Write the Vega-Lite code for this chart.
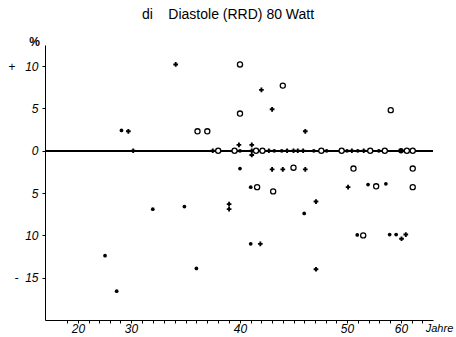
{
  "$schema": "https://vega.github.io/schema/vega-lite/v6.json",
  "autosize": {"type": "none"},
  "padding": {"left": 45, "top": 45, "right": 23, "bottom": 17},
  "width": 388,
  "height": 275,
  "background": "white",
  "config": {
    "view": {"stroke": null},
    "font": "Liberation Sans"
  },
  "title": {
    "text": "di\u00a0\u00a0\u00a0\u00a0Diastole (RRD) 80 Watt",
    "frame": "group",
    "anchor": "middle",
    "dx": -11,
    "dy": 20,
    "offset": 22,
    "baseline": "alphabetic",
    "fontSize": 14,
    "fontWeight": "normal",
    "font": "Liberation Sans",
    "color": "black"
  },
  "data": {
    "values": [
      {"age": 28.2, "pct": 2.4, "type": "dot"},
      {"age": 29.5, "pct": 2.3, "type": "plus"},
      {"age": 34.1, "pct": 10.2, "type": "plus"},
      {"age": 42.0, "pct": 7.2, "type": "plus"},
      {"age": 43.0, "pct": 4.9, "type": "plus"},
      {"age": 46.1, "pct": 2.3, "type": "plus"},
      {"age": 40.0, "pct": 10.2, "type": "open"},
      {"age": 44.0, "pct": 7.7, "type": "open"},
      {"age": 40.0, "pct": 4.4, "type": "open"},
      {"age": 36.1, "pct": 2.3, "type": "open"},
      {"age": 37.0, "pct": 2.3, "type": "open"},
      {"age": 58.1, "pct": 4.8, "type": "open"},
      {"age": 39.9, "pct": 0.7, "type": "plus"},
      {"age": 41.1, "pct": 0.7, "type": "plus"},
      {"age": 30.2, "pct": 0, "type": "plus"},
      {"age": 37.5, "pct": 0, "type": "plus"},
      {"age": 38.0, "pct": 0, "type": "open"},
      {"age": 39.5, "pct": 0, "type": "open"},
      {"age": 40.0, "pct": 0, "type": "dot"},
      {"age": 41.1, "pct": 0, "type": "plus"},
      {"age": 41.1, "pct": -0.5, "type": "plus"},
      {"age": 41.5, "pct": 0, "type": "open"},
      {"age": 42.1, "pct": 0, "type": "open"},
      {"age": 42.7, "pct": 0, "type": "plus"},
      {"age": 43.2, "pct": 0, "type": "dot"},
      {"age": 43.9, "pct": 0, "type": "dot"},
      {"age": 44.4, "pct": 0, "type": "plus"},
      {"age": 45.0, "pct": 0, "type": "plus"},
      {"age": 45.4, "pct": 0, "type": "plus"},
      {"age": 45.9, "pct": 0, "type": "plus"},
      {"age": 46.9, "pct": 0, "type": "dot"},
      {"age": 47.6, "pct": 0, "type": "open"},
      {"age": 48.1, "pct": 0, "type": "dot"},
      {"age": 49.5, "pct": 0, "type": "open"},
      {"age": 50.0, "pct": 0, "type": "dot"},
      {"age": 50.9, "pct": 0, "type": "plus"},
      {"age": 52.0, "pct": 0, "type": "dot"},
      {"age": 53.1, "pct": 0, "type": "plus"},
      {"age": 54.3, "pct": 0, "type": "open"},
      {"age": 55.9, "pct": 0, "type": "dot"},
      {"age": 57.0, "pct": 0, "type": "open"},
      {"age": 60.0, "pct": 0, "type": "big"},
      {"age": 61.1, "pct": 0, "type": "open"},
      {"age": 62.2, "pct": 0, "type": "open"},
      {"age": 40.0, "pct": -2.1, "type": "dot"},
      {"age": 43.0, "pct": -2.2, "type": "plus"},
      {"age": 44.0, "pct": -2.2, "type": "plus"},
      {"age": 45.0, "pct": -2.0, "type": "open"},
      {"age": 46.1, "pct": -2.2, "type": "plus"},
      {"age": 51.2, "pct": -2.1, "type": "open"},
      {"age": 62.2, "pct": -2.1, "type": "open"},
      {"age": 41.0, "pct": -4.3, "type": "dot"},
      {"age": 41.6, "pct": -4.3, "type": "open"},
      {"age": 43.1, "pct": -4.8, "type": "open"},
      {"age": 32.0, "pct": -6.9, "type": "dot"},
      {"age": 34.9, "pct": -6.6, "type": "dot"},
      {"age": 39.0, "pct": -6.3, "type": "plus"},
      {"age": 39.0, "pct": -6.9, "type": "plus"},
      {"age": 46.0, "pct": -7.4, "type": "dot"},
      {"age": 41.0, "pct": -11.0, "type": "dot"},
      {"age": 41.9, "pct": -11.0, "type": "plus"},
      {"age": 36.0, "pct": -13.9, "type": "dot"},
      {"age": 47.1, "pct": -6.0, "type": "plus"},
      {"age": 47.1, "pct": -14.0, "type": "plus"},
      {"age": 50.2, "pct": -4.3, "type": "plus"},
      {"age": 53.9, "pct": -4.0, "type": "dot"},
      {"age": 55.4, "pct": -4.2, "type": "open"},
      {"age": 57.2, "pct": -3.9, "type": "dot"},
      {"age": 62.2, "pct": -4.3, "type": "open"},
      {"age": 51.9, "pct": -9.95, "type": "dot"},
      {"age": 53.0, "pct": -10.0, "type": "open"},
      {"age": 57.9, "pct": -9.9, "type": "dot"},
      {"age": 59.1, "pct": -9.9, "type": "dot"},
      {"age": 60.1, "pct": -10.4, "type": "plus"},
      {"age": 60.9, "pct": -9.9, "type": "plus"},
      {"age": 25.1, "pct": -12.4, "type": "dot"},
      {"age": 27.3, "pct": -16.6, "type": "dot"}
    ]
  },
  "encoding": {
    "x": {
      "field": "age",
      "type": "quantitative",
      "scale": {
        "domain": [14, 20, 30, 40, 50, 60, 66],
        "range": [0, 33, 86, 195, 302, 356, 388],
        "nice": false,
        "zero": false
      },
      "axis": {
        "values": [18, 20, 22, 24, 26, 28, 30, 31, 32, 33, 34, 35, 36, 37, 38, 39, 40, 41, 42, 43, 44, 45, 46, 47, 48, 49, 50, 52, 54, 56, 58, 60, 62, 64],
        "labelExpr": "(datum.value == 20 || datum.value == 30 || datum.value == 40 || datum.value == 50 || datum.value == 60) ? datum.label : ''",
        "labelOverlap": false,
        "labelFlush": false,
        "grid": false,
        "domainColor": "black",
        "tickColor": "black",
        "tickSize": 3,
        "labelColor": "black",
        "labelFont": "Liberation Sans",
        "labelFontStyle": "italic",
        "labelFontSize": 12,
        "labelPadding": 0,
        "title": "Jahre",
        "titleFont": "Liberation Sans",
        "titleFontStyle": "italic",
        "titleFontWeight": "normal",
        "titleFontSize": 11,
        "titleColor": "black",
        "titleX": 394,
        "titleY": 8,
        "titleAlign": "center",
        "titleBaseline": "middle"
      }
    },
    "y": {
      "field": "pct",
      "type": "quantitative",
      "scale": {"domain": [-20, 12.5], "nice": false, "zero": false},
      "axis": {
        "values": [10, 5, 0, -5, -10, -15],
        "labelExpr": "datum.value == 10 ? '+\u00a0\u00a0\u00a010' : (datum.value == -15 ? '-\u00a0\u00a015' : format(abs(datum.value), 'd'))",
        "grid": false,
        "domainColor": "black",
        "tickColor": "black",
        "tickSize": 3,
        "labelColor": "black",
        "labelFont": "Liberation Sans",
        "labelFontStyle": "italic",
        "labelFontSize": 12,
        "labelPadding": 4,
        "title": "%",
        "titleAngle": 0,
        "titleFont": "Liberation Sans",
        "titleFontWeight": "bold",
        "titleFontSize": 12,
        "titleColor": "black",
        "titleX": -11,
        "titleY": -4,
        "titleAlign": "center",
        "titleBaseline": "middle"
      }
    }
  },
  "layer": [
    {
      "mark": {"type": "rule", "color": "black", "strokeWidth": 1.2},
      "encoding": {"y": {"datum": 0}, "x": {"value": 0}, "x2": {"value": 388}}
    },
    {
      "transform": [{"filter": "datum.type == 'dot'"}],
      "mark": {"type": "point", "shape": "circle", "filled": true, "color": "black", "size": 14, "opacity": 1}
    },
    {
      "transform": [{"filter": "datum.type == 'big'"}],
      "mark": {"type": "point", "shape": "circle", "filled": true, "color": "black", "size": 30, "opacity": 1}
    },
    {
      "transform": [{"filter": "datum.type == 'plus'"}],
      "mark": {"type": "point", "shape": "cross", "filled": true, "color": "black", "size": 22, "opacity": 1}
    },
    {
      "transform": [{"filter": "datum.type == 'open'"}],
      "mark": {"type": "point", "shape": "circle", "filled": false, "fill": "white", "stroke": "black", "strokeWidth": 1.3, "size": 26, "opacity": 1}
    }
  ]
}
